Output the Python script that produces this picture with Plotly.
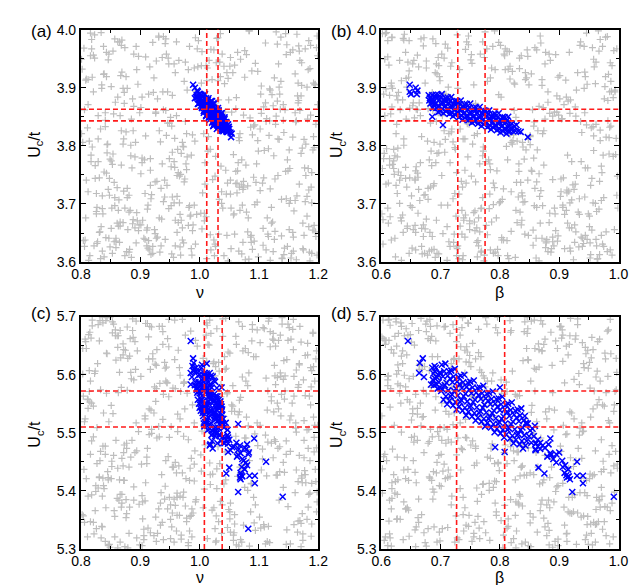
import plotly.graph_objects as go

# ---- gray: all sampled parameter sets, top row (Uc/t in 3.6..4.0)
gray_nu_ab = [
    0.812, 1.143, 0.957, 1.038, 0.884, 1.176, 0.923, 1.061, 0.839, 1.112, 0.998, 0.871, 1.189, 0.946, 1.027, 0.803, 1.094, 0.962, 1.157, 0.889,
    1.071, 0.834, 1.126, 0.978, 0.857, 1.013, 1.198, 0.917, 1.049, 0.826, 1.168, 0.941, 1.083, 0.866, 1.005, 1.137, 0.898, 0.819, 1.056, 0.973,
    0.848, 1.181, 0.932, 1.102, 0.877, 1.024, 0.969, 1.151, 0.808, 1.067, 0.951, 1.119, 0.893, 0.836, 1.192, 1.011, 0.927, 1.078, 0.862, 1.146,
    0.986, 0.821, 1.109, 0.904, 1.043, 1.172, 0.853, 0.966, 1.031, 0.881, 1.134, 0.912, 1.088, 0.829, 1.161, 0.993, 0.874, 1.052, 0.938, 1.196,
    0.845, 1.016, 1.121, 0.959, 0.806, 1.074, 0.921, 1.184, 0.868, 1.003, 1.139, 0.891, 0.948, 1.097, 0.832, 1.166, 0.977, 1.035, 0.859, 1.117,
    0.935, 1.062, 0.815, 1.153, 0.901, 0.984, 1.128, 0.843, 1.046, 0.963, 1.187, 0.878, 1.019, 0.926, 1.106, 0.851, 1.174, 0.992, 0.823, 1.068,
    0.953, 1.141, 0.886, 1.029, 0.911, 1.193, 0.838, 1.081, 0.971, 1.124, 0.864, 0.944, 1.058, 0.801, 1.163, 0.997, 0.907, 1.115, 0.873, 1.037,
    1.178, 0.828, 0.958, 1.091, 0.896, 1.008, 1.148, 0.855, 0.931, 1.072, 0.817, 1.185, 0.976, 1.044, 0.863, 1.131, 0.919, 0.981, 1.099, 0.841,
    1.159, 0.942, 1.022, 0.884, 1.195, 0.809, 1.065, 0.967, 1.136, 0.897, 0.852, 1.009, 1.171, 0.929, 1.084, 0.824, 0.988, 1.114, 0.869, 1.041,
    0.954, 1.182, 0.836, 1.076, 0.914, 1.145, 0.878, 0.995, 1.053, 0.811, 1.167, 0.939, 1.107, 0.858, 1.026, 0.974, 1.189, 0.892, 1.059, 0.846,
    1.123, 0.961, 0.818, 1.087, 0.903, 1.151, 0.867, 1.018, 0.949, 1.177, 0.833, 1.069, 0.982, 1.132, 0.887, 0.924, 1.095, 0.805, 1.158, 1.001,
    0.861, 1.042, 0.936, 1.191, 0.822, 1.079, 0.968, 1.118, 0.894, 1.012, 0.847, 1.164, 0.957, 1.033, 0.876, 1.142, 0.916, 0.989, 1.103, 0.831,
    1.186, 0.943, 1.057, 0.865, 1.127, 0.908, 0.979, 1.073, 0.814, 1.169, 0.952, 1.036, 0.882, 1.199, 0.839, 1.011, 1.093, 0.928, 0.857, 1.138,
    0.972, 1.048, 0.826, 1.175, 0.899, 1.064, 0.945, 1.121, 0.871, 0.993, 1.155, 0.849, 1.028, 0.918, 1.085, 0.807, 1.147, 0.964, 1.039, 0.888,
    1.183, 0.834, 1.099, 0.956, 1.014, 0.872, 1.129, 0.925, 1.066, 0.843, 1.194, 0.985, 0.911, 1.108, 0.854, 1.047, 0.969, 1.162, 0.819, 1.077,
    0.937, 1.135, 0.881, 1.004, 0.947, 1.173, 0.827, 1.054, 0.975, 1.111, 0.863, 0.909, 1.089, 0.802, 1.152, 0.991, 0.873, 1.032, 0.931, 1.188,
    0.844, 1.071, 0.959, 1.125, 0.895, 1.017, 0.816, 1.161, 0.942, 1.043, 0.868, 1.104, 0.913, 0.983, 1.179, 0.837, 1.061, 0.954, 1.133, 0.879,
    1.007, 0.922, 1.092, 0.851, 1.197, 0.966, 1.025, 0.885, 1.149, 0.812, 1.082, 0.939, 1.116, 0.859, 0.997, 1.168, 0.901, 1.051, 0.829, 1.139,
    0.978, 1.021, 0.874, 1.184, 0.921, 1.098, 0.846, 1.063, 0.962, 1.144, 0.809, 1.035, 0.933, 1.171, 0.889, 1.002, 0.953, 1.119, 0.835, 1.086,
    0.917, 1.157, 0.866, 1.045, 0.987, 1.192, 0.824, 1.074, 0.948, 1.131, 0.893, 1.015, 0.856, 1.165, 0.971, 1.052, 0.903, 1.112, 0.841, 1.181,
    0.827, 1.104, 0.968, 1.186, 0.853, 1.037, 0.914, 1.158, 0.872, 0.996, 1.073, 0.804, 1.129, 0.943, 1.061, 0.888, 1.195, 0.836, 1.018, 0.957,
    1.142, 0.866, 1.083, 0.925, 0.813, 1.167, 0.979, 1.046, 0.897, 1.113, 0.848, 1.004, 0.935, 1.179, 0.821, 1.057, 0.962, 1.126, 0.874, 1.091,
    0.909, 1.153, 0.842, 1.029, 0.986, 1.198, 0.861, 1.068, 0.917, 1.137, 0.806, 1.043, 0.952, 1.172, 0.883, 1.012, 0.929, 1.108, 0.838, 1.081,
    0.973, 1.161, 0.857, 1.024, 0.901, 1.146, 0.817, 1.066, 0.946, 1.189, 0.869, 1.008, 0.934, 1.119, 0.851, 1.052, 0.991, 1.174, 0.829, 1.096,
    0.918, 1.134, 0.878, 1.039, 0.961, 1.193, 0.844, 1.076, 0.906, 1.157, 0.812, 1.019, 0.983, 1.111, 0.865, 1.064, 0.927, 1.181, 0.833, 1.048,
    0.954, 1.127, 0.891, 1.003, 0.971, 1.164, 0.823, 1.087, 0.939, 1.148, 0.859, 1.031, 0.912, 1.196, 0.847, 1.071, 0.964, 1.118, 0.881, 1.014,
    0.801, 1.138, 0.944, 1.059, 0.903, 1.183, 0.868, 1.026, 0.976, 1.102, 0.835, 1.079, 0.921, 1.169, 0.854, 1.041, 0.988, 1.132, 0.816, 1.093,
    0.932, 1.154, 0.876, 1.009, 0.959, 1.187, 0.843, 1.063, 0.908, 1.122, 0.826, 1.034, 0.981, 1.176, 0.862, 1.053, 0.915, 1.141, 0.839, 1.098,
    0.967, 1.163, 0.885, 1.021, 0.949, 1.191, 0.818, 1.074, 0.926, 1.116, 0.871, 1.045, 0.993, 1.151, 0.849, 1.086, 0.937, 1.178, 0.808, 1.032,
    0.958, 1.124, 0.894, 1.067, 0.913, 1.199, 0.831, 1.006, 0.974, 1.145, 0.856, 1.089, 0.941, 1.166, 0.887, 1.027, 0.965, 1.107, 0.841, 1.184,
]
gray_beta_ab = [
    0.734, 0.652, 0.918, 0.807, 0.623, 0.971, 0.845, 0.689, 0.762, 0.936, 0.611, 0.883, 0.727, 0.994, 0.668, 0.819, 0.753, 0.902, 0.637, 0.866,
    0.781, 0.609, 0.947, 0.714, 0.858, 0.676, 0.989, 0.741, 0.628, 0.893, 0.812, 0.657, 0.964, 0.703, 0.837, 0.618, 0.926, 0.772, 0.691, 0.878,
    0.955, 0.643, 0.794, 0.719, 0.981, 0.862, 0.605, 0.749, 0.911, 0.683, 0.827, 0.634, 0.973, 0.768, 0.851, 0.697, 0.939, 0.614, 0.802, 0.721,
    0.887, 0.661, 0.958, 0.739, 0.626, 0.871, 0.789, 0.998, 0.672, 0.834, 0.708, 0.917, 0.647, 0.776, 0.943, 0.603, 0.859, 0.731, 0.985, 0.686,
    0.821, 0.655, 0.906, 0.764, 0.632, 0.968, 0.798, 0.711, 0.874, 0.617, 0.952, 0.746, 0.693, 0.839, 0.928, 0.664, 0.783, 0.607, 0.897, 0.757,
    0.679, 0.991, 0.813, 0.641, 0.866, 0.726, 0.962, 0.698, 0.848, 0.621, 0.935, 0.771, 0.658, 0.884, 0.743, 0.977, 0.612, 0.829, 0.706, 0.912,
    0.669, 0.793, 0.948, 0.637, 0.856, 0.724, 0.983, 0.688, 0.806, 0.653, 0.921, 0.767, 0.601, 0.872, 0.737, 0.959, 0.681, 0.842, 0.629, 0.903,
    0.778, 0.714, 0.996, 0.662, 0.825, 0.749, 0.939, 0.616, 0.868, 0.701, 0.974, 0.792, 0.645, 0.853, 0.733, 0.915, 0.674, 0.809, 0.624, 0.957,
    0.758, 0.692, 0.889, 0.638, 0.979, 0.817, 0.716, 0.933, 0.659, 0.847, 0.769, 0.608, 0.896, 0.741, 0.966, 0.685, 0.823, 0.633, 0.943, 0.797,
    0.707, 0.876, 0.651, 0.992, 0.763, 0.832, 0.619, 0.909, 0.728, 0.954, 0.671, 0.801, 0.644, 0.881, 0.752, 0.987, 0.694, 0.838, 0.613, 0.925,
    0.786, 0.666, 0.969, 0.722, 0.857, 0.631, 0.901, 0.779, 0.683, 0.944, 0.815, 0.606, 0.862, 0.738, 0.976, 0.654, 0.828, 0.712, 0.919, 0.648,
    0.791, 0.961, 0.676, 0.844, 0.729, 0.894, 0.622, 0.982, 0.756, 0.699, 0.871, 0.639, 0.937, 0.804, 0.718, 0.953, 0.663, 0.836, 0.604, 0.907,
    0.773, 0.687, 0.995, 0.744, 0.819, 0.627, 0.929, 0.761, 0.678, 0.885, 0.649, 0.971, 0.796, 0.713, 0.853, 0.615, 0.946, 0.735, 0.667, 0.898,
    0.811, 0.642, 0.963, 0.784, 0.696, 0.877, 0.625, 0.914, 0.754, 0.988, 0.673, 0.841, 0.719, 0.934, 0.656, 0.803, 0.747, 0.972, 0.611, 0.864,
    0.732, 0.951, 0.684, 0.826, 0.636, 0.916, 0.775, 0.704, 0.984, 0.661, 0.849, 0.742, 0.891, 0.618, 0.967, 0.789, 0.693, 0.858, 0.646, 0.924,
    0.766, 0.709, 0.997, 0.674, 0.833, 0.628, 0.941, 0.781, 0.657, 0.869, 0.736, 0.958, 0.689, 0.814, 0.602, 0.906, 0.759, 0.723, 0.978, 0.643,
    0.851, 0.697, 0.931, 0.771, 0.634, 0.889, 0.808, 0.665, 0.962, 0.745, 0.874, 0.617, 0.918, 0.788, 0.702, 0.949, 0.679, 0.831, 0.653, 0.993,
    0.762, 0.686, 0.878, 0.621, 0.956, 0.799, 0.727, 0.904, 0.658, 0.843, 0.739, 0.981, 0.609, 0.861, 0.716, 0.927, 0.671, 0.817, 0.638, 0.965,
    0.784, 0.701, 0.892, 0.647, 0.975, 0.822, 0.751, 0.913, 0.682, 0.855, 0.631, 0.944, 0.768, 0.694, 0.883, 0.662, 0.987, 0.806, 0.729, 0.937,
    0.614, 0.846, 0.757, 0.969, 0.678, 0.824, 0.641, 0.899, 0.782, 0.708, 0.952, 0.668, 0.835, 0.626, 0.921, 0.774, 0.692, 0.986, 0.748, 0.867,
    0.652, 0.918, 0.774, 0.833, 0.619, 0.961, 0.706, 0.889, 0.741, 0.997, 0.663, 0.812, 0.928, 0.687, 0.854, 0.603, 0.947, 0.769, 0.725, 0.876,
    0.938, 0.644, 0.791, 0.862, 0.711, 0.982, 0.627, 0.843, 0.758, 0.905, 0.672, 0.816, 0.963, 0.699, 0.881, 0.636, 0.929, 0.784, 0.738, 0.857,
    0.611, 0.971, 0.803, 0.684, 0.914, 0.747, 0.868, 0.625, 0.953, 0.779, 0.716, 0.892, 0.659, 0.986, 0.827, 0.731, 0.901, 0.648, 0.942, 0.766,
    0.839, 0.694, 0.975, 0.617, 0.873, 0.752, 0.921, 0.681, 0.806, 0.957, 0.638, 0.884, 0.721, 0.994, 0.668, 0.847, 0.786, 0.909, 0.606, 0.832,
    0.968, 0.713, 0.859, 0.642, 0.936, 0.777, 0.697, 0.898, 0.623, 0.979, 0.819, 0.742, 0.872, 0.654, 0.926, 0.795, 0.676, 0.951, 0.733, 0.866,
    0.614, 0.903, 0.761, 0.989, 0.689, 0.838, 0.728, 0.944, 0.661, 0.813, 0.877, 0.634, 0.967, 0.748, 0.702, 0.923, 0.829, 0.608, 0.886, 0.772,
    0.958, 0.679, 0.851, 0.736, 0.912, 0.621, 0.801, 0.973, 0.693, 0.869, 0.756, 0.932, 0.647, 0.824, 0.984, 0.717, 0.894, 0.633, 0.946, 0.789,
    0.706, 0.861, 0.978, 0.666, 0.837, 0.744, 0.917, 0.612, 0.879, 0.798, 0.724, 0.962, 0.657, 0.848, 0.771, 0.999, 0.685, 0.908, 0.629, 0.821,
    0.934, 0.753, 0.691, 0.871, 0.604, 0.955, 0.809, 0.737, 0.896, 0.671, 0.942, 0.783, 0.618, 0.863, 0.727, 0.985, 0.696, 0.842, 0.764, 0.919,
    0.641, 0.881, 0.792, 0.969, 0.712, 0.836, 0.658, 0.927, 0.759, 0.602, 0.889, 0.817, 0.943, 0.674, 0.749, 0.991, 0.631, 0.856, 0.729, 0.913,
]
gray_uc_ab = [
    3.871, 3.624, 3.702, 3.958, 3.783, 3.646, 3.917, 3.735, 3.609, 3.842, 3.981, 3.668, 3.754, 3.893, 3.627, 3.806, 3.942, 3.713, 3.651, 3.868,
    3.776, 3.995, 3.639, 3.821, 3.697, 3.934, 3.612, 3.758, 3.879, 3.683, 3.963, 3.741, 3.605, 3.852, 3.719, 3.987, 3.664, 3.798, 3.926, 3.633,
    3.744, 3.901, 3.676, 3.829, 3.618, 3.965, 3.787, 3.656, 3.913, 3.729, 3.849, 3.603, 3.971, 3.692, 3.816, 3.938, 3.641, 3.767, 3.884, 3.709,
    3.623, 3.956, 3.792, 3.672, 3.837, 3.904, 3.615, 3.748, 3.986, 3.686, 3.811, 3.659, 3.929, 3.773, 3.857, 3.631, 3.969, 3.717, 3.893, 3.644,
    3.803, 3.947, 3.694, 3.628, 3.862, 3.739, 3.978, 3.661, 3.826, 3.908, 3.607, 3.781, 3.941, 3.703, 3.652, 3.874, 3.769, 3.993, 3.636, 3.818,
    3.727, 3.883, 3.611, 3.961, 3.752, 3.679, 3.837, 3.919, 3.646, 3.794, 3.973, 3.711, 3.621, 3.856, 3.736, 3.902, 3.667, 3.808, 3.951, 3.689,
    3.614, 3.844, 3.762, 3.985, 3.655, 3.797, 3.923, 3.731, 3.638, 3.869, 3.707, 3.958, 3.683, 3.821, 3.604, 3.936, 3.776, 3.648, 3.892, 3.721,
    3.967, 3.635, 3.813, 3.746, 3.906, 3.671, 3.627, 3.855, 3.989, 3.698, 3.784, 3.617, 3.944, 3.758, 3.662, 3.877, 3.716, 3.931, 3.609, 3.833,
    3.688, 3.976, 3.742, 3.801, 3.652, 3.915, 3.771, 3.626, 3.863, 3.954, 3.693, 3.734, 3.886, 3.643, 3.998, 3.766, 3.819, 3.676, 3.927, 3.611,
    3.789, 3.846, 3.714, 3.964, 3.637, 3.756, 3.899, 3.682, 3.623, 3.831, 3.972, 3.704, 3.658, 3.875, 3.748, 3.911, 3.615, 3.806, 3.939, 3.725,
    3.669, 3.852, 3.983, 3.634, 3.779, 3.701, 3.921, 3.647, 3.839, 3.762, 3.606, 3.949, 3.694, 3.812, 3.881, 3.656, 3.737, 3.968, 3.619, 3.865,
    3.728, 3.907, 3.674, 3.793, 3.628, 3.957, 3.751, 3.843, 3.685, 3.912, 3.641, 3.992, 3.773, 3.708, 3.824, 3.613, 3.936, 3.664, 3.889, 3.745,
    3.602, 3.861, 3.785, 3.979, 3.653, 3.718, 3.896, 3.634, 3.808, 3.947, 3.697, 3.765, 3.622, 3.871, 3.924, 3.678, 3.836, 3.739, 3.984, 3.645,
    3.799, 3.916, 3.687, 3.621, 3.857, 3.961, 3.732, 3.667, 3.803, 3.894, 3.615, 3.777, 3.943, 3.709, 3.848, 3.638, 3.974, 3.754, 3.693, 3.826,
    3.931, 3.661, 3.791, 3.608, 3.879, 3.722, 3.996, 3.649, 3.814, 3.753, 3.905, 3.681, 3.628, 3.867, 3.963, 3.736, 3.672, 3.841, 3.918, 3.604,
    3.769, 3.889, 3.715, 3.657, 3.951, 3.796, 3.632, 3.858, 3.743, 3.977, 3.689, 3.817, 3.622, 3.932, 3.761, 3.698, 3.873, 3.648, 3.987, 3.729,
    3.802, 3.614, 3.926, 3.783, 3.671, 3.851, 3.955, 3.706, 3.639, 3.838, 3.767, 3.903, 3.624, 3.971, 3.749, 3.683, 3.864, 3.712, 3.941, 3.656,
    3.821, 3.892, 3.636, 3.774, 3.969, 3.702, 3.611, 3.846, 3.757, 3.914, 3.676, 3.988, 3.795, 3.641, 3.883, 3.734, 3.664, 3.937, 3.812, 3.606,
    3.759, 3.872, 3.693, 3.981, 3.627, 3.809, 3.948, 3.719, 3.651, 3.862, 3.741, 3.919, 3.617, 3.787, 3.958, 3.684, 3.834, 3.726, 3.899, 3.643,
    3.778, 3.965, 3.669, 3.827, 3.612, 3.908, 3.744, 3.853, 3.692, 3.975, 3.633, 3.816, 3.737, 3.886, 3.659, 3.952, 3.771, 3.621, 3.844, 3.713,
    3.694, 3.856, 3.612, 3.933, 3.768, 3.701, 3.889, 3.643, 3.812, 3.967, 3.725, 3.637, 3.851, 3.984, 3.756, 3.673, 3.906, 3.619, 3.794, 3.941,
    3.823, 3.662, 3.998, 3.738, 3.603, 3.878, 3.781, 3.926, 3.654, 3.847, 3.715, 3.962, 3.628, 3.803, 3.893, 3.681, 3.749, 3.917, 3.611, 3.834,
    3.953, 3.706, 3.642, 3.869, 3.784, 3.989, 3.667, 3.821, 3.732, 3.911, 3.627, 3.858, 3.764, 3.943, 3.689, 3.606, 3.881, 3.745, 3.971, 3.652,
    3.798, 3.924, 3.711, 3.638, 3.866, 3.957, 3.773, 3.619, 3.839, 3.702, 3.982, 3.684, 3.807, 3.896, 3.658, 3.741, 3.934, 3.623, 3.852, 3.769,
    3.613, 3.901, 3.727, 3.846, 3.979, 3.663, 3.788, 3.918, 3.641, 3.815, 3.721, 3.966, 3.697, 3.874, 3.634, 3.757, 3.946, 3.679, 3.829, 3.602,
    3.887, 3.743, 3.659, 3.938, 3.806, 3.714, 3.991, 3.646, 3.862, 3.776, 3.625, 3.912, 3.691, 3.837, 3.958, 3.733, 3.668, 3.898, 3.617, 3.791,
    3.949, 3.708, 3.818, 3.648, 3.884, 3.761, 3.973, 3.631, 3.842, 3.723, 3.905, 3.686, 3.615, 3.861, 3.786, 3.937, 3.654, 3.749, 3.994, 3.699,
    3.826, 3.607, 3.919, 3.771, 3.672, 3.853, 3.961, 3.736, 3.639, 3.888, 3.718, 3.944, 3.663, 3.811, 3.979, 3.693, 3.621, 3.871, 3.755, 3.928,
    3.682, 3.843, 3.608, 3.914, 3.778, 3.655, 3.967, 3.729, 3.858, 3.644, 3.899, 3.717, 3.986, 3.793, 3.626, 3.832, 3.952, 3.704, 3.676, 3.879,
    3.763, 3.618, 3.931, 3.809, 3.698, 3.955, 3.651, 3.867, 3.738, 3.993, 3.635, 3.819, 3.712, 3.908, 3.666, 3.782, 3.947, 3.629, 3.857, 3.724,
]

# ---- gray: bottom row (Uc/t in 5.3..5.7)
gray_nu_cd = [
    1.087, 0.843, 0.962, 1.176, 0.819, 1.034, 0.906, 1.141, 0.877, 0.993, 1.198, 0.838, 1.062, 0.925, 1.113, 0.804, 0.971, 1.159, 0.886, 1.045,
    0.931, 1.187, 0.853, 1.008, 0.822, 1.128, 0.947, 1.073, 0.869, 1.162, 0.912, 0.981, 1.104, 0.833, 1.051, 0.958, 1.193, 0.817, 1.026, 0.894,
    1.136, 0.861, 0.975, 1.089, 0.809, 1.171, 0.939, 1.017, 0.882, 1.149, 0.827, 1.066, 0.953, 1.124, 0.901, 0.846, 1.182, 0.987, 1.041, 0.872,
    1.107, 0.935, 0.815, 1.165, 0.966, 1.029, 0.858, 1.197, 0.919, 1.078, 0.841, 1.135, 0.996, 0.889, 1.054, 0.806, 1.117, 0.943, 1.188, 0.864,
    1.012, 0.928, 1.153, 0.831, 1.069, 0.979, 1.101, 0.855, 1.179, 0.908, 1.038, 0.824, 1.146, 0.961, 0.875, 1.093, 0.938, 1.169, 0.812, 1.022,
    0.951, 1.131, 0.881, 1.061, 0.836, 1.194, 0.914, 0.989, 1.115, 0.849, 1.047, 0.968, 1.172, 0.803, 1.084, 0.923, 1.141, 0.866, 1.006, 0.945,
    1.186, 0.828, 1.057, 0.897, 1.123, 0.972, 0.851, 1.163, 0.916, 1.032, 0.814, 1.098, 0.957, 1.178, 0.873, 1.014, 0.934, 1.137, 0.842, 1.071,
    0.984, 1.192, 0.859, 1.019, 0.906, 1.156, 0.825, 1.082, 0.941, 1.111, 0.879, 0.997, 1.168, 0.837, 1.049, 0.963, 1.129, 0.808, 1.074, 0.927,
    1.183, 0.867, 1.028, 0.952, 1.109, 0.818, 1.143, 0.991, 0.884, 1.059, 0.832, 1.196, 0.918, 1.037, 0.862, 1.121, 0.976, 1.175, 0.845, 1.011,
    0.903, 1.152, 0.871, 1.081, 0.948, 1.189, 0.829, 1.043, 0.967, 1.134, 0.893, 0.811, 1.102, 0.959, 1.166, 0.856, 1.024, 0.932, 1.147, 0.878,
    1.064, 0.821, 1.181, 0.944, 1.009, 0.887, 1.118, 0.974, 0.839, 1.158, 0.911, 1.052, 0.863, 1.195, 0.985, 1.035, 0.807, 1.126, 0.954, 1.076,
    0.883, 1.173, 0.926, 0.848, 1.095, 0.992, 1.139, 0.816, 1.056, 0.936, 1.184, 0.868, 1.016, 0.965, 1.112, 0.834, 1.067, 0.909, 1.161, 0.892,
    1.031, 0.826, 1.144, 0.977, 1.088, 0.857, 1.199, 0.921, 1.002, 0.874, 1.127, 0.949, 0.813, 1.068, 0.988, 1.174, 0.844, 1.046, 0.898, 1.116,
    0.961, 1.185, 0.835, 1.023, 0.915, 1.151, 0.876, 1.079, 0.942, 0.809, 1.106, 0.969, 1.167, 0.852, 1.039, 0.904, 1.133, 0.823, 1.058, 0.981,
    1.191, 0.865, 1.014, 0.937, 1.142, 0.891, 1.091, 0.819, 1.177, 0.955, 1.027, 0.847, 1.119, 0.973, 0.885, 1.063, 0.913, 1.154, 0.831, 1.003,
    0.946, 1.187, 0.869, 1.072, 0.923, 1.138, 0.805, 1.048, 0.986, 1.163, 0.858, 1.018, 0.933, 1.108, 0.879, 1.197, 0.962, 1.044, 0.827, 1.131,
    0.899, 1.083, 0.841, 1.171, 0.951, 1.007, 0.872, 1.124, 0.978, 0.816, 1.061, 0.929, 1.182, 0.862, 1.036, 0.994, 1.149, 0.837, 1.097, 0.917,
    1.166, 0.888, 1.021, 0.959, 1.114, 0.812, 1.076, 0.941, 1.193, 0.853, 1.051, 0.908, 1.135, 0.871, 0.983, 1.159, 0.832, 1.029, 0.967, 1.102,
    0.895, 1.178, 0.843, 1.066, 0.927, 1.146, 0.804, 1.013, 0.956, 1.121, 0.882, 1.042, 0.919, 1.188, 0.861, 1.087, 0.974, 1.153, 0.821, 1.033,
    0.938, 1.169, 0.866, 1.054, 0.991, 1.125, 0.836, 1.081, 0.912, 1.196, 0.877, 1.009, 0.948, 1.143, 0.814, 1.069, 0.964, 1.176, 0.889, 1.026,
    0.818, 1.094, 0.937, 1.172, 0.865, 1.013, 0.949, 1.128, 0.802, 1.059, 0.983, 1.191, 0.846, 1.036, 0.911, 1.147, 0.876, 1.082, 0.958, 1.116,
    0.833, 1.168, 0.904, 1.047, 0.971, 1.139, 0.857, 1.004, 0.928, 1.184, 0.811, 1.071, 0.946, 1.106, 0.889, 1.024, 0.967, 1.157, 0.838, 1.092,
    0.921, 1.176, 0.862, 1.011, 0.984, 1.133, 0.824, 1.065, 0.942, 1.198, 0.873, 1.039, 0.906, 1.121, 0.851, 1.077, 0.993, 1.162, 0.815, 1.028,
    0.954, 1.144, 0.881, 1.056, 0.932, 1.189, 0.842, 1.006, 0.973, 1.111, 0.868, 1.084, 0.914, 1.171, 0.806, 1.043, 0.962, 1.132, 0.893, 1.018,
    0.939, 1.194, 0.855, 1.062, 0.987, 1.125, 0.829, 1.097, 0.917, 1.159, 0.877, 1.032, 0.951, 1.181, 0.844, 1.074, 0.908, 1.137, 0.866, 1.009,
    0.976, 1.166, 0.821, 1.051, 0.934, 1.115, 0.884, 1.089, 0.959, 1.192, 0.849, 1.027, 0.902, 1.149, 0.812, 1.067, 0.969, 1.128, 0.872, 1.041,
    0.924, 1.173, 0.836, 1.003, 0.991, 1.109, 0.859, 1.081, 0.945, 1.186, 0.807, 1.057, 0.915, 1.141, 0.887, 1.021, 0.963, 1.163, 0.831, 1.094,
    0.938, 1.126, 0.869, 1.046, 0.981, 1.178, 0.852, 1.012, 0.926, 1.154, 0.816, 1.072, 0.957, 1.119, 0.894, 1.034, 0.909, 1.197, 0.841, 1.086,
    0.973, 1.131, 0.863, 1.059, 0.931, 1.168, 0.825, 1.017, 0.986, 1.103, 0.878, 1.078, 0.948, 1.183, 0.854, 1.044, 0.919, 1.146, 0.803, 1.063,
    0.966, 1.114, 0.891, 1.029, 0.943, 1.174, 0.837, 1.091, 0.903, 1.158, 0.871, 1.007, 0.978, 1.136, 0.846, 1.069, 0.927, 1.189, 0.818, 1.052,
]
gray_beta_cd = [
    0.867, 0.621, 0.748, 0.983, 0.694, 0.812, 0.637, 0.925, 0.759, 0.608, 0.891, 0.723, 0.956, 0.665, 0.834, 0.781, 0.613, 0.947, 0.702, 0.858,
    0.641, 0.973, 0.796, 0.687, 0.912, 0.735, 0.604, 0.871, 0.769, 0.938, 0.652, 0.819, 0.713, 0.996, 0.627, 0.847, 0.742, 0.904, 0.679, 0.961,
    0.788, 0.618, 0.883, 0.727, 0.951, 0.658, 0.826, 0.761, 0.634, 0.977, 0.706, 0.842, 0.689, 0.919, 0.611, 0.874, 0.754, 0.991, 0.671, 0.807,
    0.736, 0.943, 0.648, 0.863, 0.719, 0.602, 0.928, 0.794, 0.683, 0.969, 0.753, 0.837, 0.626, 0.896, 0.709, 0.958, 0.667, 0.824, 0.775, 0.614,
    0.906, 0.744, 0.985, 0.692, 0.851, 0.631, 0.937, 0.778, 0.659, 0.879, 0.718, 0.964, 0.606, 0.828, 0.741, 0.913, 0.676, 0.802, 0.644, 0.952,
    0.766, 0.697, 0.887, 0.623, 0.972, 0.815, 0.731, 0.931, 0.655, 0.846, 0.712, 0.994, 0.682, 0.859, 0.617, 0.921, 0.789, 0.663, 0.884, 0.749,
    0.609, 0.941, 0.806, 0.695, 0.968, 0.738, 0.854, 0.638, 0.903, 0.773, 0.681, 0.989, 0.724, 0.833, 0.646, 0.917, 0.792, 0.601, 0.869, 0.757,
    0.948, 0.673, 0.821, 0.716, 0.979, 0.633, 0.898, 0.764, 0.687, 0.934, 0.805, 0.628, 0.876, 0.746, 0.962, 0.661, 0.841, 0.727, 0.909, 0.616,
    0.785, 0.954, 0.699, 0.862, 0.642, 0.926, 0.771, 0.706, 0.997, 0.668, 0.817, 0.624, 0.892, 0.756, 0.944, 0.679, 0.838, 0.611, 0.971, 0.733,
    0.848, 0.651, 0.915, 0.782, 0.692, 0.963, 0.721, 0.829, 0.639, 0.882, 0.768, 0.607, 0.939, 0.797, 0.684, 0.986, 0.743, 0.855, 0.657, 0.902,
    0.716, 0.976, 0.626, 0.866, 0.751, 0.931, 0.674, 0.811, 0.618, 0.957, 0.779, 0.698, 0.889, 0.645, 0.981, 0.762, 0.843, 0.664, 0.918, 0.729,
    0.603, 0.872, 0.795, 0.949, 0.686, 0.823, 0.737, 0.966, 0.632, 0.857, 0.711, 0.908, 0.656, 0.992, 0.774, 0.615, 0.877, 0.747, 0.935, 0.669,
    0.818, 0.703, 0.959, 0.641, 0.894, 0.763, 0.622, 0.978, 0.727, 0.852, 0.691, 0.922, 0.649, 0.836, 0.786, 0.605, 0.945, 0.718, 0.869, 0.677,
    0.987, 0.752, 0.814, 0.636, 0.911, 0.793, 0.662, 0.953, 0.701, 0.845, 0.619, 0.898, 0.739, 0.974, 0.685, 0.827, 0.653, 0.933, 0.776, 0.713,
    0.886, 0.628, 0.967, 0.758, 0.839, 0.672, 0.916, 0.612, 0.799, 0.952, 0.694, 0.862, 0.734, 0.993, 0.647, 0.809, 0.765, 0.927, 0.681, 0.853,
    0.617, 0.942, 0.784, 0.708, 0.879, 0.658, 0.975, 0.745, 0.826, 0.634, 0.905, 0.771, 0.689, 0.961, 0.723, 0.848, 0.602, 0.919, 0.797, 0.666,
    0.883, 0.741, 0.984, 0.651, 0.832, 0.714, 0.946, 0.629, 0.874, 0.779, 0.697, 0.913, 0.643, 0.998, 0.756, 0.818, 0.675, 0.937, 0.733, 0.861,
    0.613, 0.955, 0.787, 0.704, 0.893, 0.661, 0.971, 0.748, 0.831, 0.625, 0.924, 0.768, 0.688, 0.865, 0.739, 0.982, 0.654, 0.847, 0.719, 0.907,
    0.636, 0.959, 0.803, 0.676, 0.888, 0.754, 0.941, 0.615, 0.836, 0.728, 0.969, 0.695, 0.857, 0.647, 0.918, 0.782, 0.709, 0.995, 0.663, 0.821,
    0.742, 0.901, 0.627, 0.964, 0.791, 0.683, 0.876, 0.611, 0.932, 0.759, 0.851, 0.699, 0.986, 0.657, 0.812, 0.731, 0.948, 0.639, 0.871, 0.772,
    0.702, 0.879, 0.634, 0.956, 0.769, 0.823, 0.651, 0.912, 0.738, 0.992, 0.685, 0.846, 0.611, 0.934, 0.791, 0.722, 0.968, 0.667, 0.858, 0.747,
    0.903, 0.628, 0.814, 0.979, 0.693, 0.872, 0.756, 0.941, 0.617, 0.833, 0.714, 0.961, 0.679, 0.887, 0.802, 0.644, 0.925, 0.764, 0.698, 0.851,
    0.987, 0.661, 0.827, 0.732, 0.916, 0.606, 0.868, 0.781, 0.949, 0.689, 0.841, 0.625, 0.973, 0.753, 0.708, 0.897, 0.638, 0.935, 0.818, 0.726,
    0.864, 0.612, 0.954, 0.774, 0.683, 0.906, 0.741, 0.996, 0.656, 0.837, 0.719, 0.928, 0.601, 0.881, 0.797, 0.664, 0.963, 0.735, 0.853, 0.621,
    0.944, 0.786, 0.697, 0.874, 0.642, 0.918, 0.761, 0.983, 0.672, 0.829, 0.709, 0.951, 0.632, 0.891, 0.776, 0.734, 0.967, 0.654, 0.843, 0.615,
    0.906, 0.794, 0.686, 0.977, 0.743, 0.859, 0.627, 0.931, 0.808, 0.669, 0.889, 0.751, 0.998, 0.613, 0.834, 0.717, 0.946, 0.681, 0.866, 0.772,
    0.641, 0.921, 0.796, 0.704, 0.985, 0.659, 0.848, 0.737, 0.909, 0.623, 0.876, 0.783, 0.957, 0.694, 0.819, 0.646, 0.939, 0.766, 0.712, 0.883,
    0.607, 0.971, 0.831, 0.676, 0.898, 0.749, 0.924, 0.633, 0.856, 0.789, 0.701, 0.962, 0.663, 0.841, 0.728, 0.993, 0.618, 0.871, 0.759, 0.915,
    0.687, 0.845, 0.639, 0.953, 0.779, 0.718, 0.894, 0.603, 0.938, 0.812, 0.671, 0.869, 0.744, 0.981, 0.653, 0.826, 0.706, 0.929, 0.626, 0.861,
    0.794, 0.691, 0.965, 0.733, 0.852, 0.614, 0.902, 0.768, 0.947, 0.682, 0.838, 0.721, 0.976, 0.645, 0.884, 0.757, 0.913, 0.629, 0.817, 0.989,
]
gray_uc_cd = [
    5.412, 5.637, 5.358, 5.521, 5.684, 5.447, 5.316, 5.592, 5.473, 5.659, 5.381, 5.534, 5.307, 5.618, 5.426, 5.563, 5.695, 5.342, 5.487, 5.611,
    5.369, 5.548, 5.672, 5.403, 5.326, 5.583, 5.459, 5.641, 5.394, 5.517, 5.688, 5.311, 5.436, 5.574, 5.352, 5.626, 5.492, 5.663, 5.335, 5.469,
    5.603, 5.387, 5.541, 5.678, 5.421, 5.304, 5.566, 5.448, 5.632, 5.373, 5.509, 5.691, 5.338, 5.457, 5.597, 5.419, 5.654, 5.321, 5.528, 5.466,
    5.681, 5.397, 5.553, 5.329, 5.612, 5.438, 5.667, 5.364, 5.506, 5.589, 5.313, 5.476, 5.649, 5.407, 5.537, 5.346, 5.697, 5.452, 5.579, 5.384,
    5.623, 5.491, 5.309, 5.658, 5.431, 5.568, 5.355, 5.687, 5.414, 5.524, 5.376, 5.606, 5.463, 5.331, 5.642, 5.498, 5.674, 5.349, 5.557, 5.429,
    5.318, 5.595, 5.441, 5.666, 5.391, 5.513, 5.627, 5.362, 5.484, 5.699, 5.337, 5.571, 5.422, 5.645, 5.305, 5.534, 5.406, 5.676, 5.371, 5.586,
    5.452, 5.619, 5.324, 5.502, 5.661, 5.389, 5.547, 5.436, 5.683, 5.347, 5.607, 5.478, 5.312, 5.564, 5.418, 5.652, 5.379, 5.529, 5.693, 5.444,
    5.356, 5.614, 5.487, 5.671, 5.323, 5.551, 5.409, 5.638, 5.386, 5.496, 5.302, 5.584, 5.461, 5.689, 5.368, 5.532, 5.427, 5.657, 5.341, 5.576,
    5.473, 5.629, 5.314, 5.511, 5.679, 5.393, 5.558, 5.446, 5.604, 5.359, 5.693, 5.416, 5.539, 5.327, 5.647, 5.482, 5.374, 5.591, 5.433, 5.668,
    5.306, 5.522, 5.634, 5.401, 5.562, 5.343, 5.686, 5.467, 5.599, 5.384, 5.517, 5.321, 5.655, 5.449, 5.578, 5.366, 5.622, 5.493, 5.333, 5.682,
    5.425, 5.546, 5.351, 5.613, 5.479, 5.696, 5.311, 5.587, 5.404, 5.643, 5.458, 5.329, 5.569, 5.437, 5.675, 5.382, 5.524, 5.616, 5.362, 5.491,
    5.662, 5.414, 5.554, 5.308, 5.631, 5.469, 5.698, 5.347, 5.581, 5.428, 5.506, 5.372, 5.651, 5.443, 5.594, 5.319, 5.536, 5.688, 5.397, 5.609,
    5.476, 5.335, 5.572, 5.421, 5.658, 5.356, 5.513, 5.627, 5.462, 5.304, 5.598, 5.389, 5.669, 5.441, 5.548, 5.315, 5.636, 5.484, 5.377, 5.692,
    5.431, 5.563, 5.339, 5.619, 5.497, 5.681, 5.354, 5.527, 5.408, 5.645, 5.472, 5.317, 5.583, 5.451, 5.666, 5.381, 5.541, 5.602, 5.328, 5.488,
    5.673, 5.419, 5.557, 5.346, 5.624, 5.466, 5.389, 5.694, 5.435, 5.577, 5.312, 5.519, 5.648, 5.398, 5.593, 5.479, 5.336, 5.661, 5.424, 5.535,
    5.369, 5.612, 5.456, 5.683, 5.323, 5.566, 5.437, 5.639, 5.358, 5.501, 5.677, 5.411, 5.585, 5.342, 5.628, 5.474, 5.396, 5.697, 5.447, 5.551,
    5.307, 5.603, 5.463, 5.656, 5.376, 5.532, 5.418, 5.671, 5.353, 5.589, 5.494, 5.327, 5.634, 5.439, 5.562, 5.385, 5.687, 5.422, 5.517, 5.609,
    5.348, 5.664, 5.481, 5.576, 5.313, 5.542, 5.406, 5.621, 5.467, 5.691, 5.364, 5.529, 5.433, 5.653, 5.331, 5.597, 5.452, 5.679, 5.391, 5.513,
    5.641, 5.428, 5.568, 5.305, 5.616, 5.486, 5.357, 5.685, 5.441, 5.555, 5.372, 5.631, 5.499, 5.322, 5.667, 5.413, 5.587, 5.468, 5.346, 5.606,
    5.523, 5.683, 5.394, 5.548, 5.417, 5.659, 5.338, 5.581, 5.473, 5.627, 5.361, 5.509, 5.695, 5.432, 5.571, 5.316, 5.642, 5.457, 5.384, 5.598,
    5.551, 5.376, 5.683, 5.426, 5.604, 5.318, 5.492, 5.649, 5.359, 5.537, 5.418, 5.671, 5.306, 5.583, 5.447, 5.626, 5.385, 5.512, 5.694, 5.339,
    5.468, 5.617, 5.352, 5.569, 5.431, 5.687, 5.321, 5.503, 5.643, 5.394, 5.558, 5.312, 5.662, 5.455, 5.591, 5.371, 5.524, 5.678, 5.409, 5.345,
    5.636, 5.487, 5.302, 5.574, 5.439, 5.659, 5.366, 5.531, 5.611, 5.398, 5.479, 5.696, 5.334, 5.562, 5.421, 5.645, 5.381, 5.508, 5.673, 5.357,
    5.441, 5.598, 5.327, 5.546, 5.683, 5.413, 5.371, 5.628, 5.494, 5.309, 5.578, 5.452, 5.665, 5.344, 5.519, 5.609, 5.389, 5.473, 5.692, 5.428,
    5.316, 5.589, 5.461, 5.652, 5.369, 5.536, 5.405, 5.677, 5.328, 5.563, 5.482, 5.621, 5.351, 5.505, 5.698, 5.436, 5.383, 5.597, 5.312, 5.544,
    5.668, 5.416, 5.493, 5.637, 5.341, 5.572, 5.458, 5.686, 5.375, 5.527, 5.303, 5.614, 5.446, 5.659, 5.391, 5.556, 5.324, 5.485, 5.643, 5.412,
    5.579, 5.361, 5.699, 5.434, 5.517, 5.338, 5.625, 5.471, 5.586, 5.396, 5.661, 5.315, 5.541, 5.449, 5.676, 5.367, 5.502, 5.608, 5.423, 5.332,
    5.652, 5.488, 5.379, 5.567, 5.306, 5.633, 5.442, 5.689, 5.355, 5.529, 5.463, 5.596, 5.386, 5.674, 5.319, 5.548, 5.414, 5.641, 5.477, 5.364,
    5.585, 5.427, 5.667, 5.343, 5.511, 5.619, 5.399, 5.694, 5.456, 5.336, 5.573, 5.491, 5.648, 5.372, 5.533, 5.419, 5.682, 5.308, 5.601, 5.466,
    5.358, 5.539, 5.657, 5.404, 5.589, 5.326, 5.477, 5.631, 5.392, 5.695, 5.443, 5.514, 5.347, 5.668, 5.423, 5.561, 5.313, 5.607, 5.486, 5.379,
]

# ---- blue: accepted fits, top row (the same samples in (a) and (b))
blue_nu_ab = [
    0.995, 1.010, 1.011, 1.009, 0.996, 1.012, 1.002, 1.006, 1.014, 1.009, 1.006, 0.998, 1.008, 1.015, 1.015, 1.005, 1.003, 1.002, 1.012, 1.032,
    1.001, 0.997, 1.009, 1.019, 1.002, 1.037, 1.000, 1.018, 0.992, 1.028, 1.007, 1.029, 0.995, 1.020, 0.999, 1.029, 1.021, 1.012, 0.994, 1.031,
    1.016, 1.017, 1.025, 1.012, 1.012, 1.012, 1.020, 1.020, 1.019, 1.012, 1.017, 1.016, 1.017, 1.032, 1.004, 1.011, 1.028, 1.031, 1.006, 1.037,
    1.006, 1.031, 1.004, 1.033, 1.010, 1.036, 1.009, 1.033, 1.004, 1.029, 1.023, 1.026, 1.007, 1.043, 1.020, 1.017, 1.031, 1.026, 1.023, 1.017,
    1.023, 1.027, 1.033, 1.025, 1.022, 1.016, 1.021, 1.045, 1.022, 1.023, 1.031, 1.031, 1.011, 1.048, 1.017, 1.037, 1.007, 1.040, 1.024, 1.049,
    1.014, 1.033, 1.008, 1.042, 1.042, 1.038, 1.011, 1.043, 1.025, 1.031, 1.042, 1.031, 1.027, 1.024, 1.037, 1.041, 1.038, 1.025, 1.025, 1.029,
    1.039, 1.052, 1.026, 1.023, 1.037, 1.045, 1.023, 1.050, 1.021, 1.044, 1.021, 1.054, 1.029, 1.049, 1.017, 1.047, 1.031, 1.046, 1.042, 1.038,
    1.027, 1.048, 1.038, 1.038, 1.043, 1.040, 1.046, 1.053,
    0.989, 0.997, 1.000, 0.992, 0.996, 0.999, 1.016, 1.026, 1.036, 1.021,
]
blue_beta_ab = [
    0.680, 0.681, 0.682, 0.683, 0.684, 0.685, 0.686, 0.687, 0.688, 0.689, 0.690, 0.691, 0.692, 0.693, 0.694, 0.695, 0.696, 0.697, 0.698, 0.699,
    0.700, 0.701, 0.702, 0.703, 0.704, 0.705, 0.706, 0.707, 0.708, 0.709, 0.710, 0.711, 0.712, 0.713, 0.714, 0.715, 0.716, 0.717, 0.718, 0.719,
    0.720, 0.721, 0.722, 0.723, 0.724, 0.725, 0.726, 0.727, 0.728, 0.729, 0.730, 0.731, 0.732, 0.733, 0.734, 0.735, 0.736, 0.737, 0.738, 0.739,
    0.740, 0.741, 0.742, 0.743, 0.744, 0.745, 0.746, 0.747, 0.748, 0.749, 0.750, 0.751, 0.752, 0.753, 0.754, 0.755, 0.756, 0.757, 0.758, 0.759,
    0.760, 0.761, 0.762, 0.763, 0.764, 0.765, 0.766, 0.767, 0.768, 0.769, 0.770, 0.771, 0.772, 0.773, 0.774, 0.775, 0.776, 0.777, 0.778, 0.779,
    0.780, 0.781, 0.782, 0.783, 0.784, 0.785, 0.786, 0.787, 0.788, 0.789, 0.790, 0.791, 0.792, 0.793, 0.794, 0.795, 0.796, 0.797, 0.798, 0.799,
    0.800, 0.801, 0.802, 0.803, 0.804, 0.805, 0.806, 0.807, 0.808, 0.809, 0.810, 0.811, 0.812, 0.813, 0.814, 0.815, 0.816, 0.817, 0.818, 0.819,
    0.820, 0.822, 0.824, 0.826, 0.828, 0.831, 0.835, 0.847,
    0.648, 0.648, 0.650, 0.658, 0.661, 0.660, 0.687, 0.686, 0.704, 0.696,
]
blue_uc_ab = [
    3.887, 3.878, 3.882, 3.873, 3.884, 3.878, 3.887, 3.874, 3.879, 3.870, 3.885, 3.873, 3.888, 3.865, 3.882, 3.868, 3.888, 3.869, 3.879, 3.860,
    3.883, 3.872, 3.889, 3.863, 3.874, 3.856, 3.879, 3.868, 3.882, 3.859, 3.877, 3.862, 3.883, 3.864, 3.873, 3.855, 3.877, 3.866, 3.884, 3.857,
    3.868, 3.851, 3.873, 3.862, 3.877, 3.853, 3.871, 3.857, 3.877, 3.858, 3.868, 3.849, 3.872, 3.861, 3.878, 3.852, 3.862, 3.845, 3.868, 3.856,
    3.871, 3.848, 3.865, 3.851, 3.872, 3.852, 3.862, 3.844, 3.866, 3.855, 3.873, 3.846, 3.857, 3.840, 3.862, 3.851, 3.865, 3.842, 3.860, 3.845,
    3.866, 3.847, 3.856, 3.838, 3.861, 3.849, 3.867, 3.841, 3.851, 3.834, 3.857, 3.845, 3.860, 3.837, 3.854, 3.840, 3.860, 3.841, 3.851, 3.832,
    3.855, 3.844, 3.861, 3.835, 3.846, 3.828, 3.851, 3.840, 3.854, 3.831, 3.849, 3.834, 3.855, 3.836, 3.845, 3.827, 3.849, 3.838, 3.856, 3.829,
    3.840, 3.823, 3.845, 3.834, 3.849, 3.825, 3.843, 3.829, 3.849, 3.830, 3.840, 3.821, 3.844, 3.833, 3.850, 3.824, 3.834, 3.825, 3.836, 3.830,
    3.838, 3.825, 3.834, 3.826, 3.836, 3.825, 3.824, 3.815,
    3.905, 3.893, 3.889, 3.900, 3.895, 3.889, 3.865, 3.850, 3.836, 3.858,
]

# ---- blue: accepted fits, bottom row (the same samples in (c) and (d))
blue_nu_cd = [
    0.994, 1.010, 1.012, 1.007, 0.994, 1.012, 1.003, 1.003, 1.015, 1.006, 1.007, 0.999, 1.008, 1.009, 1.017, 0.999, 1.004, 0.996, 1.013, 1.032,
    0.999, 0.992, 1.012, 1.016, 0.998, 1.036, 0.997, 1.016, 0.990, 1.025, 1.005, 1.027, 0.990, 1.017, 0.993, 1.025, 1.022, 1.007, 0.991, 1.029,
    1.013, 1.009, 1.026, 1.005, 1.010, 1.002, 1.018, 1.015, 1.019, 1.003, 1.014, 1.006, 1.015, 1.030, 1.000, 1.000, 1.025, 1.025, 0.999, 1.035,
    1.000, 1.025, 0.995, 1.028, 1.006, 1.032, 1.000, 1.026, 0.996, 1.024, 1.024, 1.017, 0.997, 1.037, 1.015, 1.008, 1.029, 1.015, 1.018, 1.005,
    1.020, 1.019, 1.029, 1.012, 1.016, 1.004, 1.017, 1.040, 1.013, 1.008, 1.027, 1.023, 1.002, 1.044, 1.007, 1.028, 0.996, 1.032, 1.016, 1.041,
    1.003, 1.025, 0.997, 1.033, 1.037, 1.025, 0.999, 1.036, 1.018, 1.017, 1.037, 1.017, 1.019, 1.009, 1.029, 1.028, 1.031, 1.011, 1.018, 1.014,
    1.030, 1.048, 1.015, 1.007, 1.030, 1.033, 1.010, 1.047, 1.009, 1.032, 1.006, 1.042, 1.018, 1.039, 1.004, 1.034, 1.010, 1.042, 1.038, 1.024,
    1.002, 1.045, 1.026, 1.020, 1.038, 1.022, 1.029, 1.018, 1.032, 1.027, 1.033, 1.021, 1.031, 1.022, 1.032, 1.047, 1.018, 1.017, 1.038, 1.036,
    1.020, 1.040, 1.021, 1.040, 1.029, 1.026, 1.036, 1.030,
    1.048, 1.052, 1.058, 1.050, 1.062, 1.066, 1.068, 1.076, 1.080, 1.069, 1.065, 1.072, 1.078, 1.083, 1.074, 1.071, 1.080, 1.069, 1.070, 1.068,
    1.076, 1.072, 1.069,
    0.985, 0.990, 0.985, 0.987, 0.985, 0.989, 0.988, 1.045, 1.050, 1.112, 1.093, 1.093, 1.084, 1.065, 1.140, 1.082, 1.055, 1.048, 1.037, 1.065,
    1.092, 1.079, 1.063, 1.082,
]
blue_beta_cd = [
    0.686, 0.687, 0.688, 0.689, 0.690, 0.691, 0.692, 0.693, 0.694, 0.695, 0.696, 0.697, 0.698, 0.699, 0.700, 0.701, 0.702, 0.703, 0.704, 0.705,
    0.706, 0.707, 0.708, 0.709, 0.710, 0.711, 0.712, 0.713, 0.714, 0.715, 0.716, 0.717, 0.718, 0.719, 0.720, 0.721, 0.722, 0.723, 0.724, 0.725,
    0.726, 0.727, 0.728, 0.729, 0.730, 0.731, 0.732, 0.733, 0.734, 0.735, 0.736, 0.737, 0.738, 0.739, 0.740, 0.741, 0.742, 0.743, 0.744, 0.745,
    0.746, 0.747, 0.748, 0.749, 0.750, 0.751, 0.752, 0.753, 0.754, 0.755, 0.756, 0.757, 0.758, 0.759, 0.760, 0.761, 0.762, 0.763, 0.764, 0.765,
    0.766, 0.767, 0.768, 0.769, 0.770, 0.771, 0.772, 0.773, 0.774, 0.775, 0.776, 0.777, 0.778, 0.779, 0.780, 0.781, 0.782, 0.783, 0.784, 0.785,
    0.786, 0.787, 0.788, 0.789, 0.790, 0.791, 0.792, 0.793, 0.794, 0.795, 0.796, 0.797, 0.798, 0.799, 0.800, 0.801, 0.802, 0.803, 0.804, 0.805,
    0.806, 0.807, 0.808, 0.809, 0.810, 0.811, 0.812, 0.813, 0.814, 0.815, 0.816, 0.817, 0.818, 0.819, 0.820, 0.821, 0.822, 0.823, 0.824, 0.825,
    0.826, 0.827, 0.828, 0.829, 0.830, 0.831, 0.832, 0.833, 0.834, 0.835, 0.836, 0.837, 0.838, 0.839, 0.840, 0.841, 0.842, 0.843, 0.844, 0.845,
    0.847, 0.849, 0.851, 0.853, 0.855, 0.857, 0.859, 0.861,
    0.860, 0.860, 0.864, 0.864, 0.868, 0.868, 0.872, 0.876, 0.882, 0.885, 0.886, 0.890, 0.895, 0.900, 0.905, 0.906, 0.910, 0.909, 0.912, 0.913,
    0.915, 0.916, 0.918,
    0.645, 0.665, 0.664, 0.672, 0.684, 0.670, 0.690, 0.875, 0.865, 0.930, 0.930, 0.940, 0.940, 0.922, 0.992, 1.050, 0.792, 0.808, 0.800, 0.845,
    0.885, 0.860, 0.880, 0.895,
]
blue_uc_cd = [
    5.612, 5.591, 5.602, 5.582, 5.606, 5.593, 5.612, 5.583, 5.595, 5.576, 5.600, 5.587, 5.603, 5.578, 5.603, 5.572, 5.617, 5.575, 5.597, 5.557,
    5.606, 5.582, 5.619, 5.563, 5.586, 5.549, 5.598, 5.573, 5.606, 5.555, 5.593, 5.563, 5.607, 5.566, 5.587, 5.547, 5.597, 5.572, 5.610, 5.553,
    5.576, 5.540, 5.588, 5.564, 5.596, 5.545, 5.584, 5.553, 5.598, 5.556, 5.577, 5.538, 5.587, 5.563, 5.600, 5.543, 5.567, 5.530, 5.579, 5.554,
    5.586, 5.536, 5.574, 5.544, 5.588, 5.546, 5.568, 5.528, 5.578, 5.553, 5.590, 5.534, 5.557, 5.521, 5.569, 5.544, 5.577, 5.526, 5.565, 5.534,
    5.578, 5.537, 5.558, 5.519, 5.568, 5.543, 5.581, 5.524, 5.548, 5.511, 5.559, 5.535, 5.567, 5.517, 5.555, 5.524, 5.569, 5.527, 5.549, 5.509,
    5.558, 5.534, 5.571, 5.515, 5.538, 5.501, 5.550, 5.525, 5.558, 5.507, 5.545, 5.515, 5.559, 5.518, 5.539, 5.499, 5.549, 5.524, 5.562, 5.505,
    5.528, 5.492, 5.540, 5.516, 5.548, 5.497, 5.536, 5.505, 5.550, 5.508, 5.529, 5.490, 5.539, 5.515, 5.552, 5.495, 5.519, 5.482, 5.531, 5.506,
    5.538, 5.488, 5.526, 5.496, 5.540, 5.498, 5.520, 5.480, 5.530, 5.505, 5.542, 5.486, 5.509, 5.473, 5.521, 5.496, 5.529, 5.478, 5.517, 5.486,
    5.516, 5.494, 5.504, 5.483, 5.507, 5.494, 5.512, 5.482,
    5.481, 5.470, 5.476, 5.488, 5.483, 5.472, 5.478, 5.474, 5.480, 5.465, 5.462, 5.455, 5.449, 5.466, 5.452, 5.441, 5.444, 5.431, 5.427, 5.423,
    5.437, 5.425, 5.420,
    5.658, 5.620, 5.603, 5.596, 5.583, 5.628, 5.615, 5.430, 5.440, 5.450, 5.426, 5.413, 5.426, 5.398, 5.390, 5.335, 5.475, 5.467, 5.578, 5.515,
    5.490, 5.472, 5.459, 5.463,
]

# red dashed bounds
nu_bounds_ab = [1.012, 1.031]
beta_bounds_ab = [0.729, 0.775]
uc_bounds_ab = [3.843, 3.863]
nu_bounds_cd = [1.008, 1.038]
beta_bounds_cd = [0.727, 0.808]
uc_bounds_cd = [5.510, 5.572]

nu_range = [0.8, 1.2]
beta_range = [0.6, 1.0]
uc_range_ab = [3.6, 4.0]
uc_range_cd = [5.3, 5.7]

W, H = 638, 585
FONT = "Liberation Sans, Arial, sans-serif"
GRAY = "#bebebe"
BLUE = "#0000ff"
RED = "#ff1a1a"

def px(x, y):
    return x / W, 1 - y / H

fig = go.Figure()

panels = [
    ("x", "y", gray_nu_ab, gray_uc_ab, blue_nu_ab, blue_uc_ab, nu_bounds_ab, uc_bounds_ab),
    ("x2", "y2", gray_beta_ab, gray_uc_ab, blue_beta_ab, blue_uc_ab, beta_bounds_ab, uc_bounds_ab),
    ("x3", "y3", gray_nu_cd, gray_uc_cd, blue_nu_cd, blue_uc_cd, nu_bounds_cd, uc_bounds_cd),
    ("x4", "y4", gray_beta_cd, gray_uc_cd, blue_beta_cd, blue_uc_cd, beta_bounds_cd, uc_bounds_cd),
]

dash = dict(color=RED, width=1.6, dash="5px,3px")
for xa, ya, gx, gy, bx, by, xb, yb in panels:
    fig.add_trace(go.Scatter(
        x=gx, y=gy, mode="markers", xaxis=xa, yaxis=ya, hoverinfo="skip", showlegend=False,
        marker=dict(symbol="cross-thin", size=5, color=GRAY, line=dict(width=1.2, color=GRAY))))
    fig.add_trace(go.Scatter(
        x=bx, y=by, mode="markers", xaxis=xa, yaxis=ya, hoverinfo="skip", showlegend=False,
        marker=dict(symbol="x-thin", size=6, color=BLUE, line=dict(width=1.5, color=BLUE))))
    for v in xb:
        fig.add_shape(type="line", xref=xa, yref=ya + " domain", x0=v, x1=v, y0=0, y1=1, line=dash)
    for v in yb:
        fig.add_shape(type="line", xref=xa + " domain", yref=ya, x0=0, x1=1, y0=v, y1=v, line=dash)

axis_style = dict(
    showline=True, linecolor="black", linewidth=2, mirror="allticks",
    ticks="inside", ticklen=5, tickwidth=1.2, tickcolor="black",
    minor=dict(ticks="inside", ticklen=3, tickwidth=1.2, tickcolor="black", dtick=0.05),
    dtick=0.1, tick0=0, tickformat=".1f",
    showgrid=False, zeroline=False,
    tickfont=dict(family=FONT, size=14, color="black"),
)
x_style = dict(axis_style, ticklabelstandoff=-2)

left = [65 / W, 310 / W]
right = [375 / W, 620 / W]
top = [1 - 253 / H, 1 - 14 / H]
bottom = [1 - 548 / H, 1 - 309 / H]

fig.update_layout(
    width=W, height=H,
    margin=dict(l=0, r=0, t=0, b=0),
    paper_bgcolor="white", plot_bgcolor="white",
    showlegend=False,
    xaxis=dict(x_style, domain=left, range=nu_range, anchor="y"),
    yaxis=dict(axis_style, domain=top, range=uc_range_ab, anchor="x"),
    xaxis2=dict(x_style, domain=right, range=beta_range, anchor="y2"),
    yaxis2=dict(axis_style, domain=top, range=uc_range_ab, anchor="x2"),
    xaxis3=dict(x_style, domain=left, range=nu_range, anchor="y3"),
    yaxis3=dict(axis_style, domain=bottom, range=uc_range_cd, anchor="x3"),
    xaxis4=dict(x_style, domain=right, range=beta_range, anchor="y4"),
    yaxis4=dict(axis_style, domain=bottom, range=uc_range_cd, anchor="x4"),
)

# panel letters and axis titles
texts = [
    ("(a)", 11, 16, 0, "left", 17), ("(b)", 321, 16, 0, "left", 17),
    ("(c)", 11, 306, 0, "left", 17), ("(d)", 321, 306, 0, "left", 17),
    ("\u03bd", 188, 284, 0, "center", 16), ("\u03b2", 497, 284, 0, "center", 16),
    ("\u03bd", 188, 577, 0, "center", 16), ("\u03b2", 497, 577, 0, "center", 16),
    ("U<sub>c</sub>/t", 18, 132, -90, "center", 16), ("U<sub>c</sub>/t", 330, 132, -90, "center", 16),
    ("U<sub>c</sub>/t", 18, 430, -90, "center", 16), ("U<sub>c</sub>/t", 330, 430, -90, "center", 16),
]
for t, x, y, ang, anc, sz in texts:
    xp, yp = px(x, y)
    fig.add_annotation(text=t, x=xp, y=yp, xref="paper", yref="paper", showarrow=False,
                       textangle=ang, xanchor=anc, yanchor="middle",
                       font=dict(family=FONT, size=sz, color="black"))

fig.write_html("out.html")
